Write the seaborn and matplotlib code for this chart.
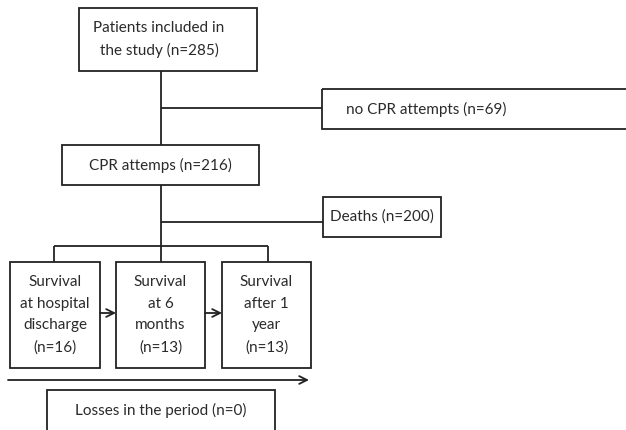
"""
Flowchart of patients, CPR attempts and survival
"""

import matplotlib.pyplot as plt
import seaborn as sns
from matplotlib.patches import Rectangle

# Flow stages and counts
top_labels = ["Patients included in\nthe study", "CPR attemps"]
top_counts = [285, 216]
side_labels = ["no CPR attempts", "Deaths"]
side_counts = [69, 200]
survival_labels = ["Survival\nat hospital\ndischarge", "Survival\nat 6\nmonths", "Survival\nafter 1\nyear"]
survival_counts = [16, 13, 13]
loss_label = "Losses in the period"
loss_count = 0

sns.set_style("white")
plt.rcParams['font.family'] = ['Lato', 'DejaVu Sans']

EDGE = '#222222'
TEXT = '#2a2a2a'
LW = 1.3
FS = 11

fig = plt.figure(figsize=(6.26, 4.30), dpi=100)
ax = fig.add_axes([0, 0, 1, 1])
ax.set_xlim(0, 626)
ax.set_ylim(430, 0)
ax.axis('off')


def box(x0, y0, x1, y1, text, tx=None):
    ax.add_patch(Rectangle((x0, y0), x1 - x0, y1 - y0, fill=False,
                           edgecolor=EDGE, linewidth=LW, clip_on=False))
    cx = (x0 + x1) / 2 if tx is None else tx
    ax.text(cx, (y0 + y1) / 2, text, ha='center', va='center',
            fontsize=FS, color=TEXT, linespacing=1.68)


def line(xs, ys):
    ax.plot(xs, ys, color=EDGE, linewidth=LW, solid_capstyle='butt')


def arrow(x0, x1, y):
    ax.annotate('', xy=(x1, y), xytext=(x0, y),
                arrowprops=dict(arrowstyle='->', color=EDGE, lw=LW,
                                shrinkA=0, shrinkB=0, mutation_scale=14))


# main column
box(79, 8, 257, 71, f"{top_labels[0]} (n={top_counts[0]})", tx=159)
box(62, 145, 259, 185, f"{top_labels[1]} (n={top_counts[1]})")
line([161, 161], [71, 145])
line([161, 161], [185, 262])

# side exits
line([161, 322], [108, 108])
box(322, 89, 640, 129, f"{side_labels[0]} (n={side_counts[0]})", tx=426)
line([161, 323], [222, 222])
box(323, 197, 441, 237, f"{side_labels[1]} (n={side_counts[1]})")

# survival branch
sx = [(10, 100), (116, 205), (222, 311)]
line([54, 268], [246, 246])
line([54, 54], [246, 262])
line([268, 268], [246, 262])
for (x0, x1), lab, n in zip(sx, survival_labels, survival_counts):
    box(x0, 262, x1, 368, f"{lab}\n(n={n})")
arrow(100, 116, 313)
arrow(205, 222, 313)

# time arrow and losses
arrow(8, 309, 380)
box(47, 390, 275, 431, f"{loss_label} (n={loss_count})")

plt.savefig("out.png", dpi=100)
plt.close()
